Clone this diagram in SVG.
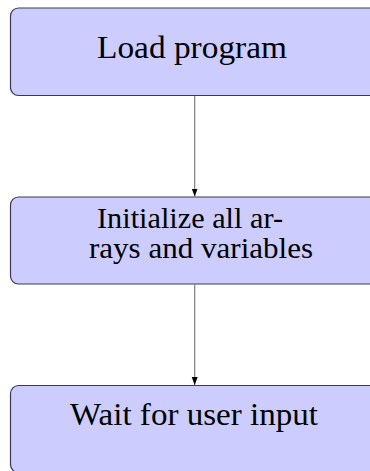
<svg xmlns="http://www.w3.org/2000/svg" width="370" height="471" viewBox="0 0 370 471">
  <style>
    .box { fill: #ccccff; stroke: #3a3a4a; stroke-width: 1.2; }
    .lbl { font-family: "Liberation Serif", "DejaVu Serif", serif; font-size: 32px; fill: #000; }
    .lbl2 { font-size: 29px; }
    .edge { stroke: #808080; stroke-width: 1.2; fill: none; marker-end: url(#tip); }
  </style>
  <defs>
    <marker id="tip" viewBox="0 0 8 8" refX="8" refY="4" markerWidth="8" markerHeight="8" markerUnits="userSpaceOnUse" orient="auto">
      <path d="M0,1 L8,4 L0,7 Z" fill="#000"/>
    </marker>
  </defs>

  <g id="connectors">
    <line class="edge" x1="194.7" y1="96" x2="194.7" y2="196.5"/>
    <line class="edge" x1="194.7" y1="284.5" x2="194.7" y2="385"/>
  </g>

  <g id="load">
    <rect class="box" x="10.5" y="8" width="370" height="87.5" rx="8"/>
    <text class="lbl" x="97" y="58" textLength="190" lengthAdjust="spacingAndGlyphs">Load program</text>
  </g>

  <g id="init">
    <rect class="box" x="10.5" y="197" width="370" height="87" rx="8"/>
    <text class="lbl lbl2" x="97" y="228" textLength="186" lengthAdjust="spacingAndGlyphs">Initialize all ar-</text>
    <text class="lbl lbl2" x="89" y="258" textLength="224" lengthAdjust="spacingAndGlyphs">rays and variables</text>
  </g>

  <g id="wait">
    <rect class="box" x="10.5" y="385.5" width="370" height="87" rx="8"/>
    <text class="lbl" x="70" y="425" textLength="248" lengthAdjust="spacingAndGlyphs">Wait for user input</text>
  </g>
</svg>
